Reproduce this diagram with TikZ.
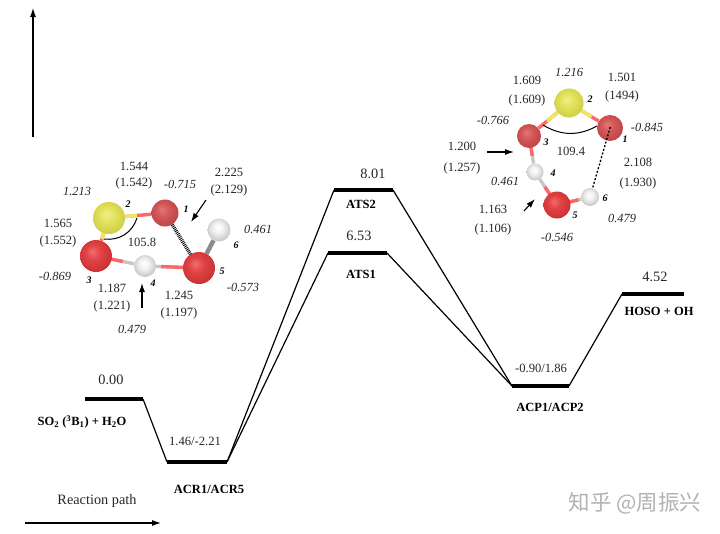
\documentclass[tikz,border=0pt]{standalone}
\usepackage{fontspec}
\setmainfont{Liberation Serif}
\newfontfamily\cjkfont{Noto Sans CJK SC}
\usetikzlibrary{arrows.meta,positioning,calc,backgrounds}
\pgfdeclareradialshading{redball}{\pgfpoint{-6bp}{7bp}}{color(0bp)=(rgb,255:red,238;green,110;blue,110); color(12bp)=(rgb,255:red,226;green,66;blue,68); color(28bp)=(rgb,255:red,200;green,50;blue,52); color(50bp)=(rgb,255:red,170;green,40;blue,42)}
\pgfdeclareradialshading{dullball}{\pgfpoint{-6bp}{7bp}}{color(0bp)=(rgb,255:red,226;green,120;blue,120); color(12bp)=(rgb,255:red,212;green,88;blue,90); color(28bp)=(rgb,255:red,190;green,68;blue,70); color(50bp)=(rgb,255:red,160;green,55;blue,55)}
\pgfdeclareradialshading{yellowball}{\pgfpoint{-4bp}{6bp}}{color(0bp)=(rgb,255:red,240;green,240;blue,140); color(12bp)=(rgb,255:red,226;green,226;blue,92); color(28bp)=(rgb,255:red,205;green,205;blue,70); color(50bp)=(rgb,255:red,170;green,170;blue,60)}
\pgfdeclareradialshading{whiteball}{\pgfpoint{-3bp}{6bp}}{color(0bp)=(rgb,255:red,255;green,255;blue,255); color(12bp)=(rgb,255:red,240;green,240;blue,240); color(28bp)=(rgb,255:red,195;green,195;blue,195); color(50bp)=(rgb,255:red,150;green,150;blue,150)}

\begin{document}
\begin{tikzpicture}[x=1pt, y=-1pt, font=\fontsize{12.6}{14}\selectfont]
\tikzstyle{rung}=[line width=4pt]
\tikzstyle{route}=[line width=1.2pt]
\tikzstyle{val}=[inner sep=0pt, align=center, text=black!85]
\tikzstyle{big}=[inner sep=0pt, text=black!85, font=\fontsize{14.3}{16}\selectfont]
\tikzstyle{charge}=[inner sep=0pt, font=\fontsize{12.4}{14}\selectfont\itshape, text=black!85]
\tikzstyle{num}=[inner sep=0pt, font=\fontsize{10}{12}\selectfont\bfseries\itshape]
\tikzstyle{tag}=[inner sep=0pt, font=\fontsize{12.5}{14}\selectfont\bfseries]
\tikzstyle{oxy}=[circle, inner sep=0pt, shading=redball]
\tikzstyle{oxyd}=[circle, inner sep=0pt, shading=dullball]
\tikzstyle{sulf}=[circle, inner sep=0pt, shading=yellowball]
\tikzstyle{hyd}=[circle, inner sep=0pt, shading=whiteball]
\tikzstyle{bondO}=[line width=3.4pt, red!60!white]
\tikzstyle{bondS}=[line width=3.4pt, yellow!70!white!85!gray]
\tikzstyle{bondH}=[line width=3.4pt, black!22]
\tikzstyle{pointer}=[-{Latex[length=9pt,width=6pt]}, line width=1.1pt]
\useasboundingbox (0,0) rectangle (720,533);

% axes
\coordinate (yfoot) at (33,137);
\coordinate (ytip)  at (33,8);
\coordinate (xfoot) at (25,523);
\coordinate (xtip)  at (161,523);
\draw[pointer] (yfoot) -- (ytip);
\draw[pointer] (xfoot) -- (xtip);
\node[big] (xlabel) at (97,501) {Reaction path};

% energy levels
\coordinate (Ra) at (85,399);   \coordinate (Rb) at (143,399);
\coordinate (Ca) at (167,462);  \coordinate (Cb) at (227,462);
\coordinate (Ta) at (334,190);  \coordinate (Tb) at (393,190);
\coordinate (Sa) at (328,253);  \coordinate (Sb) at (387,253);
\coordinate (Pa) at (512,386);  \coordinate (Pb) at (569,386);
\coordinate (Ha) at (622,294);  \coordinate (Hb) at (684,294);
\draw[rung] (Ra) -- (Rb);
\draw[rung] (Ca) -- (Cb);
\draw[rung] (Ta) -- (Tb);
\draw[rung] (Sa) -- (Sb);
\draw[rung] (Pa) -- (Pb);
\draw[rung] (Ha) -- (Hb);
\draw[route] (Rb) -- (Ca);
\draw[route] (Cb) -- (Ta);
\draw[route] (Cb) -- (Sa);
\draw[route] (Tb) -- (Pa);
\draw[route] (Sb) -- (Pa);
\draw[route] (Pb) -- (Ha);

\node[big] (eR) at (111,380) {0.00};
\node[val] (eC) at (195,441) {1.46/-2.21};
\node[big] (eT) at (373,174) {8.01};
\node[big] (eS) at (359,236) {6.53};
\node[val] (eP) at (541,368) {-0.90/1.86};
\node[big] (eH) at (655,277) {4.52};
\node[tag] (nR) at (82,422) {SO\textsubscript{2} (\textsuperscript{3}B\textsubscript{1}) + H\textsubscript{2}O};
\node[tag] (nC) at (209,489) {ACR1/ACR5};
\node[tag] (nT) at (361,204) {ATS2};
\node[tag] (nS) at (361,274) {ATS1};
\node[tag] (nP) at (550,407) {ACP1/ACP2};
\node[tag] (nH) at (659,311) {HOSO + OH};

% left structure
\node[sulf, minimum size=32pt] (aS) at (109,218) {};
\node[oxyd, minimum size=27pt] (aOa) at (165,213) {};
\node[oxy, minimum size=32pt]  (aOb) at (96,256) {};
\node[hyd, minimum size=22pt]  (aHa) at (145,266) {};
\node[oxy, minimum size=32pt]  (aOc) at (199,268) {};
\node[hyd, minimum size=23pt]  (aHb) at (219,230) {};
\begin{scope}[on background layer]
\draw[bondO] (aS) -- (aOa);
\draw[bondO] (aS) -- (aOb);
\draw[bondH] (aOb) -- (aHa);
\draw[bondH] (aHa) -- (aOc);
\draw[bondH, line width=4.5pt, black!45] (aOc) -- (aHb);
\draw[bondO] (aOb.center) -- ($(aOb)!0.55!(aHa)$);
\draw[bondO] (aOc.center) -- ($(aOc)!0.7!(aHa)$);
\draw[bondS] (aS.center) -- ($(aS)!0.5!(aOa)$);
\draw[bondS] (aS.center) -- ($(aS)!0.55!(aOb)$);
\end{scope}
\draw[line width=3.6pt, dash pattern=on 0.8pt off 1pt] (aOa) -- (aOc);
\draw[line width=1pt] (137,218) to[bend left=40] (104,239);

\coordinate (apa) at (206,200); \coordinate (apb) at (191,222);
\coordinate (aqa) at (142,308); \coordinate (aqb) at (142,283);
\draw[pointer] (apa) -- (apb);
\draw[pointer] (aqa) -- (aqb);
\node[val] (al1) at (134,176) {1.544\\[2pt](1.542)};
\node[val] (al2) at (229,182) {2.225\\[3pt](2.129)};
\node[val] (al3) at (58,233) {1.565\\[3pt](1.552)};
\node[val] (al4) at (112,298) {1.187\\[3pt](1.221)};
\node[val] (al5) at (179,305) {1.245\\[3pt](1.197)};
\node[val] (aang) at (142,242) {105.8};
\node[charge] (aq2) at (77,191) {1.213};
\node[charge] (aq1) at (180,184) {-0.715};
\node[charge] (aq6) at (258,229) {0.461};
\node[charge] (aq5) at (243,287) {-0.573};
\node[charge] (aq3) at (55,276) {-0.869};
\node[charge] (aq4) at (132,329) {0.479};
\node[num] (an1) at (186,209) {1};
\node[num] (an2) at (128,204) {2};
\node[num] (an3) at (89,280) {3};
\node[num] (an4) at (153,283) {4};
\node[num] (an5) at (222,271) {5};
\node[num] (an6) at (236,245) {6};

% right structure
\node[sulf, minimum size=29pt] (bS) at (569,103) {};
\node[oxyd, minimum size=26pt] (bOa) at (610,128) {};
\node[oxyd, minimum size=24pt] (bOb) at (529,136) {};
\node[hyd, minimum size=17pt]  (bHa) at (535,172) {};
\node[oxy, minimum size=27pt]  (bOc) at (557,205) {};
\node[hyd, minimum size=18pt]  (bHb) at (590,197) {};
\begin{scope}[on background layer]
\draw[bondO] (bS) -- (bOa);
\draw[bondO] (bS) -- (bOb);
\draw[bondH] (bOb) -- (bHa);
\draw[bondH] (bHa) -- (bOc);
\draw[bondH] (bOc) -- (bHb);
\draw[bondO] (bOb.center) -- ($(bOb)!0.55!(bHa)$);
\draw[bondO] (bOc.center) -- ($(bOc)!0.55!(bHa)$);
\draw[bondO] (bOc.center) -- ($(bOc)!0.65!(bHb)$);
\draw[bondS] (bS.center) -- ($(bS)!0.55!(bOa)$);
\draw[bondS] (bS.center) -- ($(bS)!0.55!(bOb)$);
\end{scope}
\draw[line width=1.3pt, dash pattern=on 2pt off 1.8pt, shorten <=-1pt] (bOa.center) -- (bHb);
\draw[line width=1pt] (543,125) to[bend right=30] (597,126);

\coordinate (bpa) at (487,152); \coordinate (bpb) at (514,152);
\coordinate (bqa) at (524,211); \coordinate (bqb) at (535,199);
\draw[pointer] (bpa) -- (bpb);
\draw[pointer] (bqa) -- (bqb);
\node[val] (bl1) at (527,91.5) {1.609\\[5pt](1.609)};
\node[val] (bl2) at (622,88) {1.501\\[4pt](1494)};
\node[val] (bl3) at (462,158.5) {1.200\\[7pt](1.257)};
\node[val] (bl4) at (493,220.5) {1.163\\[5pt](1.106)};
\node[val] (bl5) at (638,174) {2.108\\[6pt](1.930)};
\node[val] (bang) at (571,151) {109.4};
\node[charge] (bq2) at (569,72) {1.216};
\node[charge] (bq1) at (647,127) {-0.845};
\node[charge] (bq3) at (493,120) {-0.766};
\node[charge] (bq4) at (505,181) {0.461};
\node[charge] (bq5) at (557,237) {-0.546};
\node[charge] (bq6) at (622,218) {0.479};
\node[num] (bn1) at (625,139) {1};
\node[num] (bn2) at (590,99) {2};
\node[num] (bn3) at (546,142) {3};
\node[num] (bn4) at (553,173) {4};
\node[num] (bn5) at (575,215) {5};
\node[num] (bn6) at (605,198) {6};

% watermark
\node[inner sep=0pt, text=black!30, font=\fontsize{21.5}{24}\selectfont\cjkfont] (mark) at (635,503) {知乎 @周振兴};
\end{tikzpicture}
\end{document}
